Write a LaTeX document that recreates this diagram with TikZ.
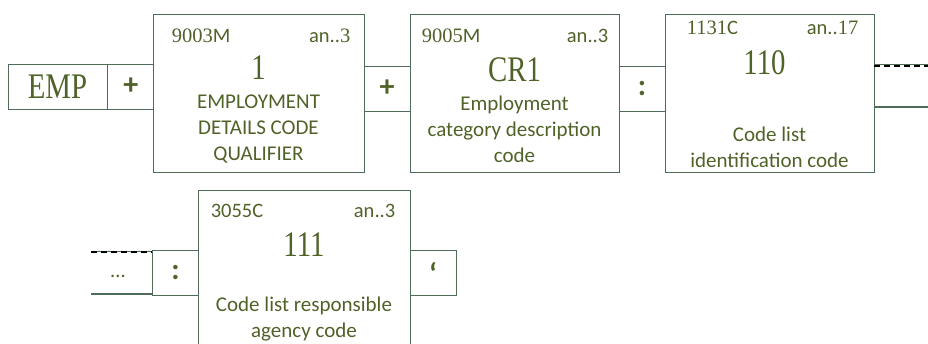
\documentclass[tikz,border=0pt]{standalone}
\usepackage{fontspec}
\setmainfont{Carlito}
\newfontfamily\titlefont[FakeStretch=0.8]{Liberation Serif}
\newfontfamily\numfont{Liberation Serif}
\usetikzlibrary{positioning}
\definecolor{olivetext}{RGB}{79,98,40}
\definecolor{boxline}{RGB}{78,108,88}
\newcommand{\cd}[2]{{\numfont #1}#2}
\tikzset{
	elembox/.style={draw=boxline, line width=0.9pt, minimum width=211pt, minimum height=158pt, inner sep=0pt},
	sepbox/.style={draw=boxline, line width=0.9pt, minimum width=46pt, minimum height=45pt, inner sep=0pt, text=olivetext, font=\fontsize{30}{30}\selectfont\bfseries},
	codetext/.style={text=olivetext, font=\fontsize{20.5}{20}\selectfont, inner sep=0pt},
	titletext/.style={text=olivetext, font=\fontsize{36}{36}\selectfont\titlefont, inner sep=0pt, anchor=base},
	desctext/.style={text=olivetext, font=\fontsize{21}{26}\selectfont, align=center, inner sep=0pt, anchor=north},
	contline/.style={boxline, line width=0.9pt},
	contdash/.style={black, line width=1.6pt, dash pattern=on 6pt off 4pt}
}
\begin{document}
\begin{tikzpicture}[x=1pt, y=-1pt]
	\useasboundingbox (0,0) rectangle (928,343);
	\node[sepbox, minimum width=99pt, font=\fontsize{36}{36}\selectfont\titlefont] (emp) at (57.5,86.5) {EMP};
	\node[sepbox, right=0pt of emp] (plusA) {+};
	\node[elembox] (b1) at (258.5,93) {};
	\node[sepbox] (plusB) at (387,88.5) {+};
	\node[elembox, minimum width=209pt] (b2) at (514.5,93) {};
	\node[sepbox] (colA) at (642,88.5) {:};
	\node[elembox, minimum width=209pt] (b3) at (769.5,93) {};
	\coordinate (endA) at (928,64);
	\coordinate (endB) at (928,107);
	\draw[contline] (b3.east |- endA) -- (endA);
	\draw[contdash] ([yshift=-2pt]b3.east |- endA) -- ([yshift=-2pt]endA);
	\draw[contline, line width=2pt] (b3.east |- endB) -- (endB);
	\node[codetext, anchor=base west] (c1) at ([xshift=19pt,yshift=-29pt]b1.north west) {\cd{9003}{M}};
	\node[codetext, anchor=base east] (f1) at ([xshift=-14pt,yshift=-29pt]b1.north east) {an..\numfont 3};
	\node[titletext] (t1) at ([yshift=-66pt]b1.north) {1};
	\node[desctext] (d1) at ([yshift=-81pt]b1.north) {EMPLOYMENT\\DETAILS CODE\\QUALIFIER};
	\node[codetext, anchor=base west] (c2) at ([xshift=12pt,yshift=-29pt]b2.north west) {\cd{9005}{M}};
	\node[codetext, anchor=base east] (f2) at ([xshift=-11pt,yshift=-29pt]b2.north east) {an..3};
	\node[titletext] (t2) at ([yshift=-68pt]b2.north) {CR1};
	\node[desctext] (d2) at ([yshift=-82pt]b2.north) {Employment\\category description\\code};
	\node[codetext, anchor=base west] (c3) at ([xshift=22pt,yshift=-21pt]b3.north west) {\cd{1131}{C}};
	\node[codetext, anchor=base east] (f3) at ([xshift=-16pt,yshift=-21pt]b3.north east) {an..\numfont 17};
	\node[titletext] (t3) at ([xshift=-5pt,yshift=-61pt]b3.north) {110};
	\node[desctext] (d3) at ([yshift=-113pt]b3.north) {Code list\\identification code};
	\node[sepbox] (colB) at (175.5,273) {:};
	\node[elembox, minimum width=212pt, minimum height=170pt] (b4) at (304,275) {};
	\node[sepbox] (quote) at (433,273) {‘};
	\coordinate (startA) at (91,251);
	\coordinate (startB) at (91,294);
	\draw[contline] (startA) -- (colB.west |- startA);
	\draw[contdash] ([yshift=-1pt]startA) -- ([yshift=-1pt]colB.west |- startA);
	\draw[contline, line width=2pt] (startB) -- (colB.west |- startB);
	\node[codetext] (dots) at (118,276) {...};
	\node[codetext, anchor=base west] (c4) at ([xshift=13pt,yshift=-28pt]b4.north west) {3055C};
	\node[codetext, anchor=base east] (f4) at ([xshift=-15pt,yshift=-28pt]b4.north east) {an..3};
	\node[titletext] (t4) at ([yshift=-67pt]b4.north) {111};
	\node[desctext] (d4) at ([yshift=-107pt]b4.north) {Code list responsible\\agency code};
\end{tikzpicture}
\end{document}
